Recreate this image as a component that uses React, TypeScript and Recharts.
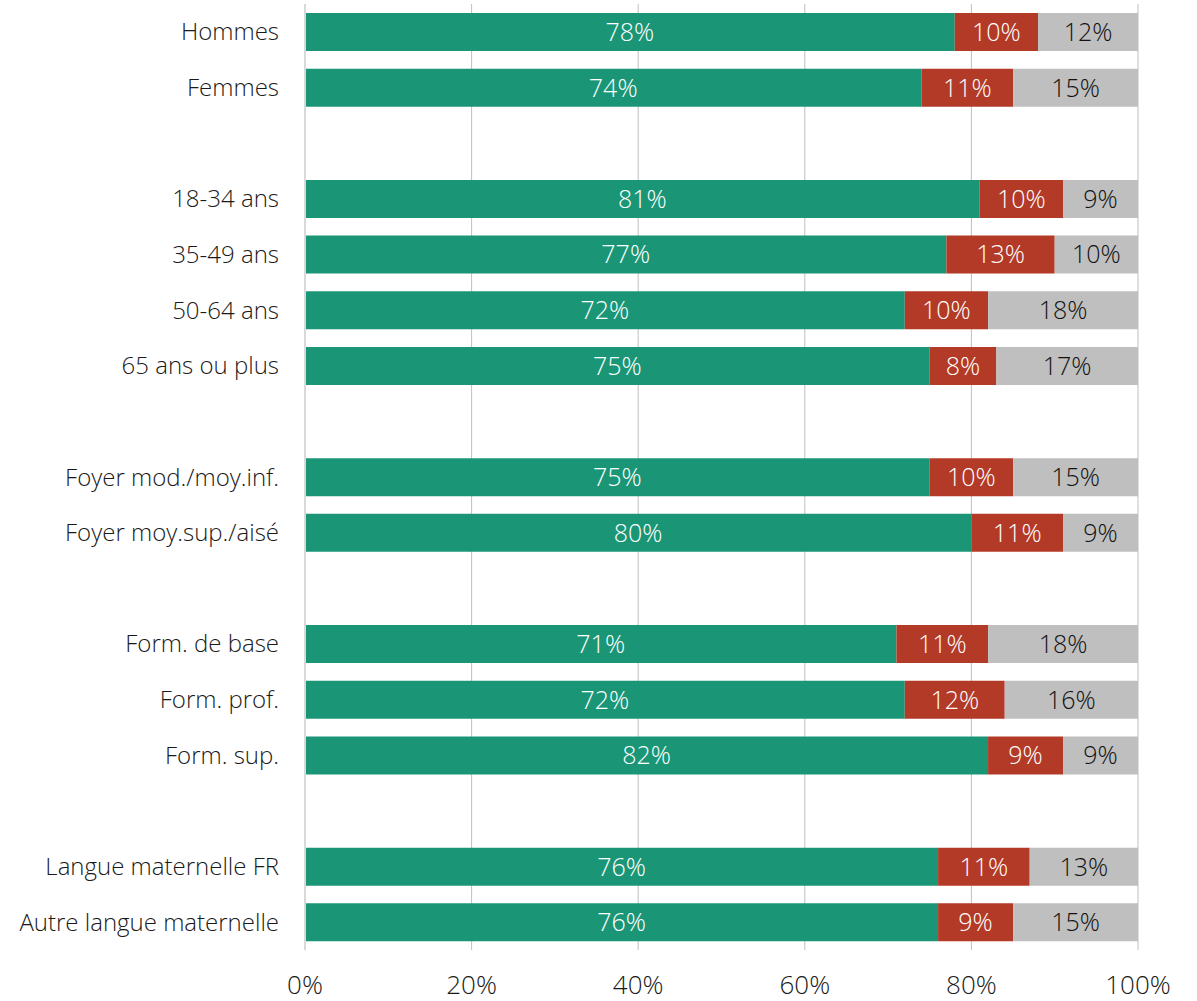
import { BarChart, Bar, XAxis, YAxis, CartesianGrid, LabelList } from 'recharts';

// Category rows; blank entries are the spacer rows between groups
const categories = [
  'Hommes',
  'Femmes',
  ' ',
  '18-34 ans',
  '35-49 ans',
  '50-64 ans',
  '65 ans ou plus',
  '  ',
  'Foyer mod./moy.inf.',
  'Foyer moy.sup./aisé',
  '   ',
  'Form. de base',
  'Form. prof.',
  'Form. sup.',
  '    ',
  'Langue maternelle FR',
  'Autre langue maternelle',
];

const greenValues = [78, 74, null, 81, 77, 72, 75, null, 75, 80, null, 71, 72, 82, null, 76, 76];
const redValues = [10, 11, null, 10, 13, 10, 8, null, 10, 11, null, 11, 12, 9, null, 11, 9];
const grayValues = [12, 15, null, 9, 10, 18, 17, null, 15, 9, null, 18, 16, 9, null, 13, 15];

const xTicks = [0, 20, 40, 60, 80, 100];

const FONT = '"Open Sans", sans-serif';

const data = categories.map((name, i) => ({
  name,
  green: greenValues[i],
  red: redValues[i],
  gray: grayValues[i],
}));

const pct = (v: any) => (v == null ? '' : `${v}%`);

export default function App() {
  return (
    <div style={{ position: 'absolute', left: 0, top: 0, background: '#fff' }}>
      <BarChart
        width={1197}
        height={1001}
        data={data}
        layout="vertical"
        margin={{ top: 4, right: 59, left: 0, bottom: 0 }}
        barCategoryGap={9}
      >
        <CartesianGrid horizontal={false} stroke="#bfbfbf" strokeWidth={1} />
        <XAxis
          type="number"
          domain={[0, 100]}
          ticks={xTicks}
          tickFormatter={(v) => `${v}%`}
          axisLine={false}
          tickLine={false}
          height={51}
          tickMargin={20}
          tick={{ fontSize: 26, fill: '#1a1a1a', fontFamily: FONT, fontWeight: 300 }}
        />
        <YAxis
          type="category"
          dataKey="name"
          width={305}
          axisLine={{ stroke: '#d9d9d9', strokeWidth: 2 }}
          tickLine={false}
          tickSize={0}
          tickMargin={26}
          interval={0}
          tick={{ fontSize: 24, fill: '#1a1a1a', fontFamily: FONT, fontWeight: 300 }}
        />
        <Bar dataKey="green" stackId="a" fill="#1a9677" isAnimationActive={false}>
          <LabelList
            dataKey="green"
            position="center"
            formatter={pct}
            style={{ fontSize: 25, fill: '#ffffff', fontFamily: FONT, fontWeight: 300 }}
          />
        </Bar>
        <Bar dataKey="red" stackId="a" fill="#b33a27" isAnimationActive={false}>
          <LabelList
            dataKey="red"
            position="center"
            formatter={pct}
            style={{ fontSize: 25, fill: '#ffffff', fontFamily: FONT, fontWeight: 300 }}
          />
        </Bar>
        <Bar dataKey="gray" stackId="a" fill="#bfbfbf" isAnimationActive={false}>
          <LabelList
            dataKey="gray"
            position="center"
            formatter={pct}
            style={{ fontSize: 25, fill: '#111111', fontFamily: FONT, fontWeight: 300 }}
          />
        </Bar>
      </BarChart>
    </div>
  );
}
